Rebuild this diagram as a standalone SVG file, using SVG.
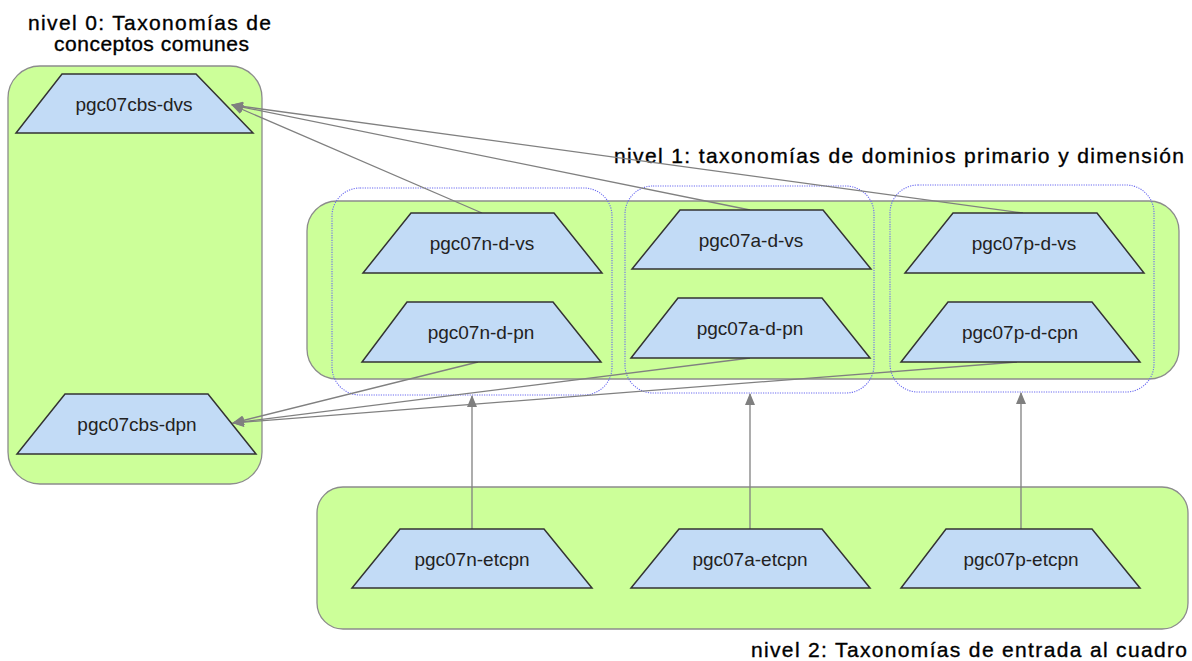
<svg xmlns="http://www.w3.org/2000/svg" width="1192" height="661" viewBox="0 0 1192 661">
<defs>
<marker id="arr" markerUnits="userSpaceOnUse" markerWidth="12" markerHeight="10" viewBox="0 0 12 10" refX="11" refY="5" orient="auto">
<path d="M0,0 L12,5 L0,10 z" fill="#7f7f7f"/>
</marker>
<style>
.lvl{fill:#ccff99;stroke:#8c8c8c;stroke-width:1.3}
.grp{fill:none;stroke:#6a6af0;stroke-width:1.1;stroke-dasharray:1.2 1.2}
.trap{fill:#c2dbf6;stroke:#333;stroke-width:1.5}
.nt{font-family:"Liberation Sans",Arial,sans-serif;font-size:19px;fill:#222;text-anchor:middle}
.title{font-family:"Liberation Sans",Arial,sans-serif;font-size:21px;fill:#000;stroke:#000;stroke-width:0.35}
.conn{fill:none;stroke:#808080;stroke-width:1.3;marker-end:url(#arr)}
</style>
</defs>
<rect width="1192" height="661" fill="#ffffff"/>

<g id="level0">
<rect class="lvl" x="8" y="66" width="254" height="418" rx="32"/>
<text class="title" x="28" y="30" textLength="243" lengthAdjust="spacing">nivel 0: Taxonomías de</text>
<text class="title" x="54" y="51" textLength="195" lengthAdjust="spacing">conceptos comunes</text>
</g>
<g id="level1">
<rect class="lvl" x="307" y="201" width="872" height="178" rx="30"/>
<text class="title" x="614" y="163" textLength="570" lengthAdjust="spacing">nivel 1: taxonomías de dominios primario y dimensión</text>
</g>
<g id="level2">
<rect class="lvl" x="317" y="487" width="871" height="142" rx="26"/>
<text class="title" x="751" y="657" textLength="436" lengthAdjust="spacing">nivel 2: Taxonomías de entrada al cuadro</text>
</g>
<g id="group-n"><rect class="grp" x="332" y="188" width="280" height="207" rx="28"/></g>
<g id="group-a"><rect class="grp" x="625" y="186" width="249" height="207" rx="28"/></g>
<g id="group-p"><rect class="grp" x="890" y="185" width="264" height="207" rx="28"/></g>

<g id="connectors">
<line class="conn" x1="482" y1="213" x2="232" y2="105"/>
<line class="conn" x1="750" y1="210" x2="232" y2="105"/>
<line class="conn" x1="1023" y1="213" x2="232" y2="105"/>
<line class="conn" x1="478" y1="362" x2="233" y2="423"/>
<line class="conn" x1="750" y1="358" x2="233" y2="423"/>
<line class="conn" x1="1017" y1="362" x2="233" y2="423"/>
<line class="conn" x1="472" y1="529" x2="472" y2="396"/>
<line class="conn" x1="750" y1="529" x2="750" y2="394"/>
<line class="conn" x1="1021" y1="529" x2="1021" y2="393"/>
</g>

<g id="pgc07cbs-dvs"><polygon class="trap" points="62,74 196,74 253,133 16,133"/><text class="nt" x="134" y="111">pgc07cbs-dvs</text></g>
<g id="pgc07cbs-dpn"><polygon class="trap" points="65,394 208,394 256,454 17,454"/><text class="nt" x="137" y="431">pgc07cbs-dpn</text></g>
<g id="pgc07n-d-vs"><polygon class="trap" points="411,213 554,213 602,273 363,273"/><text class="nt" x="482" y="250">pgc07n-d-vs</text></g>
<g id="pgc07n-d-pn"><polygon class="trap" points="407,302 553,302 601,362 362,362"/><text class="nt" x="481" y="339">pgc07n-d-pn</text></g>
<g id="pgc07a-d-vs"><polygon class="trap" points="680,210 823,210 871,269 632,269"/><text class="nt" x="751" y="247">pgc07a-d-vs</text></g>
<g id="pgc07a-d-pn"><polygon class="trap" points="678,298 822,298 870,358 631,358"/><text class="nt" x="750" y="335">pgc07a-d-pn</text></g>
<g id="pgc07p-d-vs"><polygon class="trap" points="953,213 1097,213 1144,273 905,273"/><text class="nt" x="1024" y="250">pgc07p-d-vs</text></g>
<g id="pgc07p-d-cpn"><polygon class="trap" points="948,302 1092,302 1140,362 901,362"/><text class="nt" x="1020" y="339">pgc07p-d-cpn</text></g>
<g id="pgc07n-etcpn"><polygon class="trap" points="400,529 544,529 592,588 352,588"/><text class="nt" x="472" y="566">pgc07n-etcpn</text></g>
<g id="pgc07a-etcpn"><polygon class="trap" points="679,529 822,529 870,588 631,588"/><text class="nt" x="750" y="566">pgc07a-etcpn</text></g>
<g id="pgc07p-etcpn"><polygon class="trap" points="946,529 1092,529 1140,588 901,588"/><text class="nt" x="1021" y="566">pgc07p-etcpn</text></g>
</svg>
